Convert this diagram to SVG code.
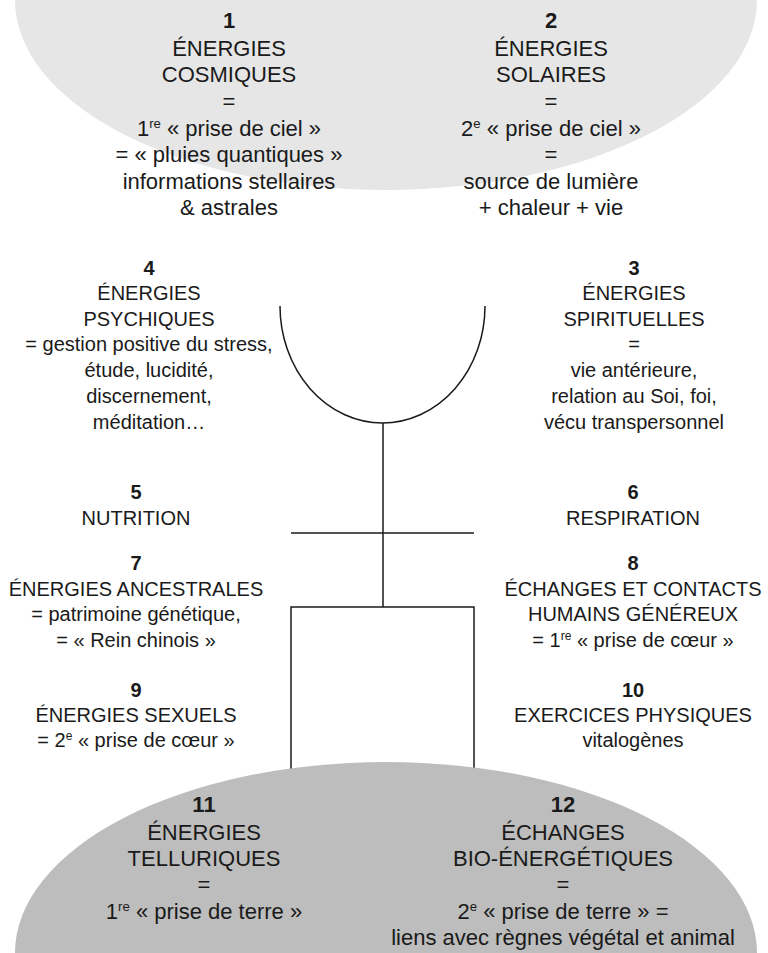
<svg xmlns="http://www.w3.org/2000/svg" width="768" height="953" viewBox="0 0 768 953">
<style>
text{font-family:"Liberation Sans",Arial,sans-serif;fill:#1a1a1a;text-anchor:middle}
.c{font-size:22px}
.m{font-size:20px}
.n{font-weight:bold}
.sup{font-size:60%}
.fig{fill:none;stroke:#1a1a1a;stroke-width:1.5}
</style>
<rect width="768" height="953" fill="#fff"/>
<g id="sky"><ellipse cx="386" cy="0" rx="371" ry="190" fill="#e6e6e6"/></g>
<g id="connectors">
<path class="fig" d="M280,306 A102.5,117 0 0 0 485,306"/>
<line class="fig" x1="383" y1="423" x2="383" y2="607"/>
<line class="fig" x1="291" y1="533" x2="474" y2="533"/>
<polyline class="fig" points="291,770 291,607 474,607 474,770"/>
</g>
<g id="earth"><ellipse cx="386" cy="953" rx="371" ry="191" fill="#bdbdbd"/></g>
<g id="n1" class="c">
<text x="229" y="28" class="n">1</text>
<text x="229" y="56">ÉNERGIES</text>
<text x="229" y="82">COSMIQUES</text>
<text x="229" y="109">=</text>
<text x="229" y="136">1<tspan class="sup" dy="-8">re</tspan><tspan dy="8"> « prise de ciel »</tspan></text>
<text x="229" y="162">= « pluies quantiques »</text>
<text x="229" y="189">informations stellaires</text>
<text x="229" y="215">&amp; astrales</text>
</g>
<g id="n2" class="c">
<text x="551" y="28" class="n">2</text>
<text x="551" y="56">ÉNERGIES</text>
<text x="551" y="82">SOLAIRES</text>
<text x="551" y="109">=</text>
<text x="551" y="136">2<tspan class="sup" dy="-8">e</tspan><tspan dy="8"> « prise de ciel »</tspan></text>
<text x="551" y="162">=</text>
<text x="551" y="189">source de lumière</text>
<text x="551" y="215">+ chaleur + vie</text>
</g>
<g id="n4" class="m">
<text x="149" y="275" class="n">4</text>
<text x="149" y="300">ÉNERGIES</text>
<text x="149" y="326">PSYCHIQUES</text>
<text x="149" y="351">= gestion positive du stress,</text>
<text x="149" y="377">étude, lucidité,</text>
<text x="149" y="403">discernement,</text>
<text x="149" y="429">méditation…</text>
</g>
<g id="n3" class="m">
<text x="634" y="275" class="n">3</text>
<text x="634" y="300">ÉNERGIES</text>
<text x="634" y="326">SPIRITUELLES</text>
<text x="634" y="351">=</text>
<text x="634" y="377">vie antérieure,</text>
<text x="634" y="403">relation au Soi, foi,</text>
<text x="634" y="429">vécu transpersonnel</text>
</g>
<g id="n5" class="m">
<text x="136" y="499" class="n">5</text>
<text x="136" y="525">NUTRITION</text>
</g>
<g id="n6" class="m">
<text x="633" y="499" class="n">6</text>
<text x="633" y="525">RESPIRATION</text>
</g>
<g id="n7" class="m">
<text x="136" y="570" class="n">7</text>
<text x="136" y="596">ÉNERGIES ANCESTRALES</text>
<text x="136" y="621">= patrimoine génétique,</text>
<text x="136" y="647">= « Rein chinois »</text>
</g>
<g id="n8" class="m">
<text x="633" y="570" class="n">8</text>
<text x="633" y="596">ÉCHANGES ET CONTACTS</text>
<text x="633" y="621">HUMAINS GÉNÉREUX</text>
<text x="633" y="647">= 1<tspan class="sup" dy="-7">re</tspan><tspan dy="7"> « prise de cœur »</tspan></text>
</g>
<g id="n9" class="m">
<text x="136" y="697" class="n">9</text>
<text x="136" y="722">ÉNERGIES SEXUELS</text>
<text x="136" y="747">= 2<tspan class="sup" dy="-7">e</tspan><tspan dy="7"> « prise de cœur »</tspan></text>
</g>
<g id="n10" class="m">
<text x="633" y="697" class="n">10</text>
<text x="633" y="722">EXERCICES PHYSIQUES</text>
<text x="633" y="747">vitalogènes</text>
</g>
<g id="n11" class="c">
<text x="204" y="812" class="n">11</text>
<text x="204" y="840">ÉNERGIES</text>
<text x="204" y="866">TELLURIQUES</text>
<text x="204" y="892">=</text>
<text x="204" y="919">1<tspan class="sup" dy="-8">re</tspan><tspan dy="8"> « prise de terre »</tspan></text>
</g>
<g id="n12" class="c">
<text x="563" y="812" class="n">12</text>
<text x="563" y="840">ÉCHANGES</text>
<text x="563" y="866">BIO-ÉNERGÉTIQUES</text>
<text x="563" y="892">=</text>
<text x="563" y="919">2<tspan class="sup" dy="-8">e</tspan><tspan dy="8"> « prise de terre » =</tspan></text>
<text x="563" y="945">liens avec règnes végétal et animal</text>
</g>
</svg>
